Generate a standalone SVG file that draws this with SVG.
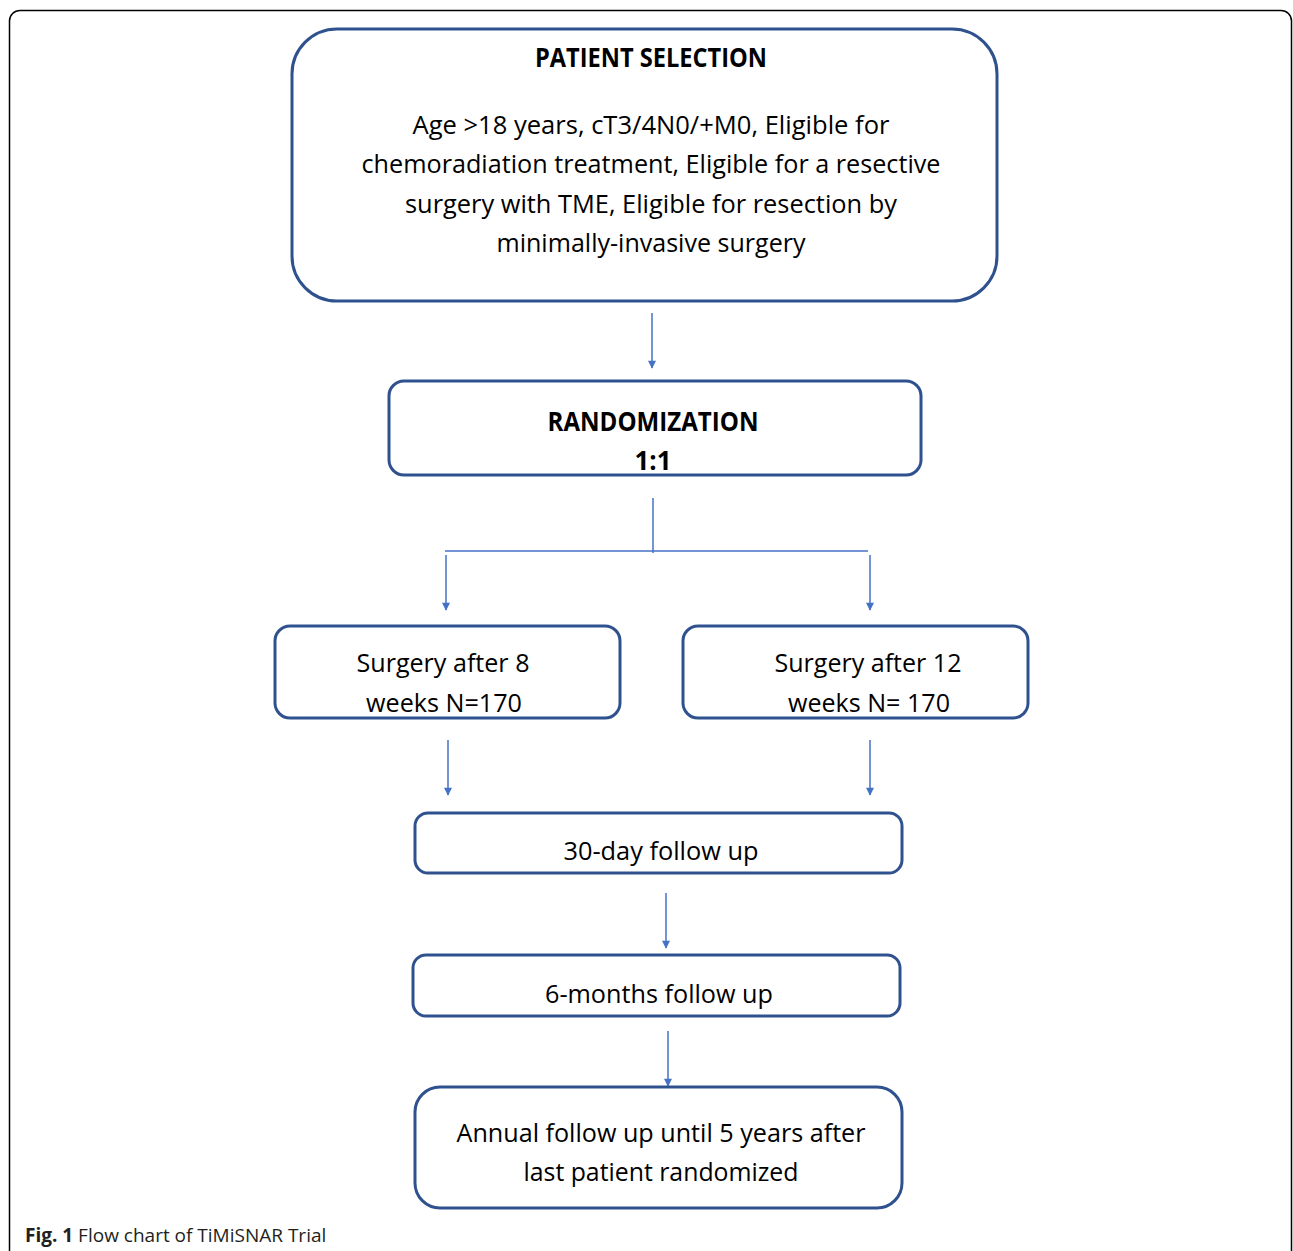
<svg xmlns="http://www.w3.org/2000/svg" width="1293" height="1251" viewBox="0 0 1293 1251">
<defs>
<style>
.box{fill:#fff;stroke:#2f528f;stroke-width:3}
.t{font-family:"Open Sans","Noto Sans",sans-serif;font-size:26px;fill:#000;text-anchor:middle}
.b{font-weight:bold}
.c{stroke:#4472c4;stroke-width:1.5;fill:none}
.cap{font-family:"Open Sans","Noto Sans",sans-serif;font-size:19px;fill:#231f20}
</style>
<marker id="ah" viewBox="0 0 10 10" refX="9" refY="5" markerWidth="9" markerHeight="8" markerUnits="userSpaceOnUse" orient="auto">
<path d="M0,0 L10,5 L0,10 Z" fill="#4472c4"/>
</marker>
</defs>
<rect width="1293" height="1251" fill="#fff"/>
<path d="M9.5,1251 V21 A10.5,10.5 0 0 1 20,10.5 H1281 A10.5,10.5 0 0 1 1291.5,21 V1251" fill="none" stroke="#000" stroke-width="1.5"/>

<g id="connectors">
<line class="c" x1="652" y1="313" x2="652" y2="368" marker-end="url(#ah)"/>
<line class="c" x1="653" y1="498" x2="653" y2="553"/>
<line class="c" x1="445" y1="551" x2="868" y2="551"/>
<line class="c" x1="446" y1="555" x2="446" y2="610" marker-end="url(#ah)"/>
<line class="c" x1="870" y1="555" x2="870" y2="610" marker-end="url(#ah)"/>
<line class="c" x1="448" y1="740" x2="448" y2="795" marker-end="url(#ah)"/>
<line class="c" x1="870" y1="740" x2="870" y2="795" marker-end="url(#ah)"/>
<line class="c" x1="666" y1="893" x2="666" y2="948" marker-end="url(#ah)"/>
<line class="c" x1="668" y1="1031" x2="668" y2="1086" marker-end="url(#ah)"/>
</g>

<g id="patient-selection">
<rect class="box" x="292" y="29" width="705" height="272" rx="45"/>
<text class="t b" x="651" y="67" textLength="232" lengthAdjust="spacingAndGlyphs">PATIENT SELECTION</text>
<text class="t" x="651" y="134" textLength="477" lengthAdjust="spacingAndGlyphs">Age &gt;18 years, cT3/4N0/+M0, Eligible for</text>
<text class="t" x="651" y="173" textLength="579" lengthAdjust="spacingAndGlyphs">chemoradiation treatment, Eligible for a resective</text>
<text class="t" x="651" y="213" textLength="492" lengthAdjust="spacingAndGlyphs">surgery with TME, Eligible for resection by</text>
<text class="t" x="651" y="252" textLength="309" lengthAdjust="spacingAndGlyphs">minimally-invasive surgery</text>
</g>

<g id="randomization">
<rect class="box" x="389" y="381" width="532" height="94" rx="15"/>
<text class="t b" x="653" y="431" textLength="211" lengthAdjust="spacingAndGlyphs">RANDOMIZATION</text>
<text class="t b" x="653" y="470" textLength="37" lengthAdjust="spacingAndGlyphs">1:1</text>
</g>

<g id="surgery-8">
<rect class="box" x="275" y="626" width="345" height="92" rx="15"/>
<text class="t" x="443" y="672" textLength="173" lengthAdjust="spacingAndGlyphs">Surgery after 8</text>
<text class="t" x="444" y="712" textLength="156" lengthAdjust="spacingAndGlyphs">weeks N=170</text>
</g>

<g id="surgery-12">
<rect class="box" x="683" y="626" width="345" height="92" rx="15"/>
<text class="t" x="868" y="672" textLength="187" lengthAdjust="spacingAndGlyphs">Surgery after 12</text>
<text class="t" x="869" y="712" textLength="162" lengthAdjust="spacingAndGlyphs">weeks N= 170</text>
</g>

<g id="followup-30day">
<rect class="box" x="415" y="813" width="487" height="60" rx="13"/>
<text class="t" x="661" y="860" textLength="195" lengthAdjust="spacingAndGlyphs">30-day follow up</text>
</g>

<g id="followup-6months">
<rect class="box" x="413" y="955" width="487" height="61" rx="13"/>
<text class="t" x="659" y="1003" textLength="228" lengthAdjust="spacingAndGlyphs">6-months follow up</text>
</g>

<g id="followup-annual">
<rect class="box" x="415" y="1087" width="487" height="121" rx="25"/>
<text class="t" x="661" y="1142" textLength="409" lengthAdjust="spacingAndGlyphs">Annual follow up until 5 years after</text>
<text class="t" x="661" y="1181" textLength="275" lengthAdjust="spacingAndGlyphs">last patient randomized</text>
</g>

<text class="cap" x="25" y="1242"><tspan font-weight="bold">Fig. 1</tspan> Flow chart of TiMiSNAR Trial</text>
</svg>
